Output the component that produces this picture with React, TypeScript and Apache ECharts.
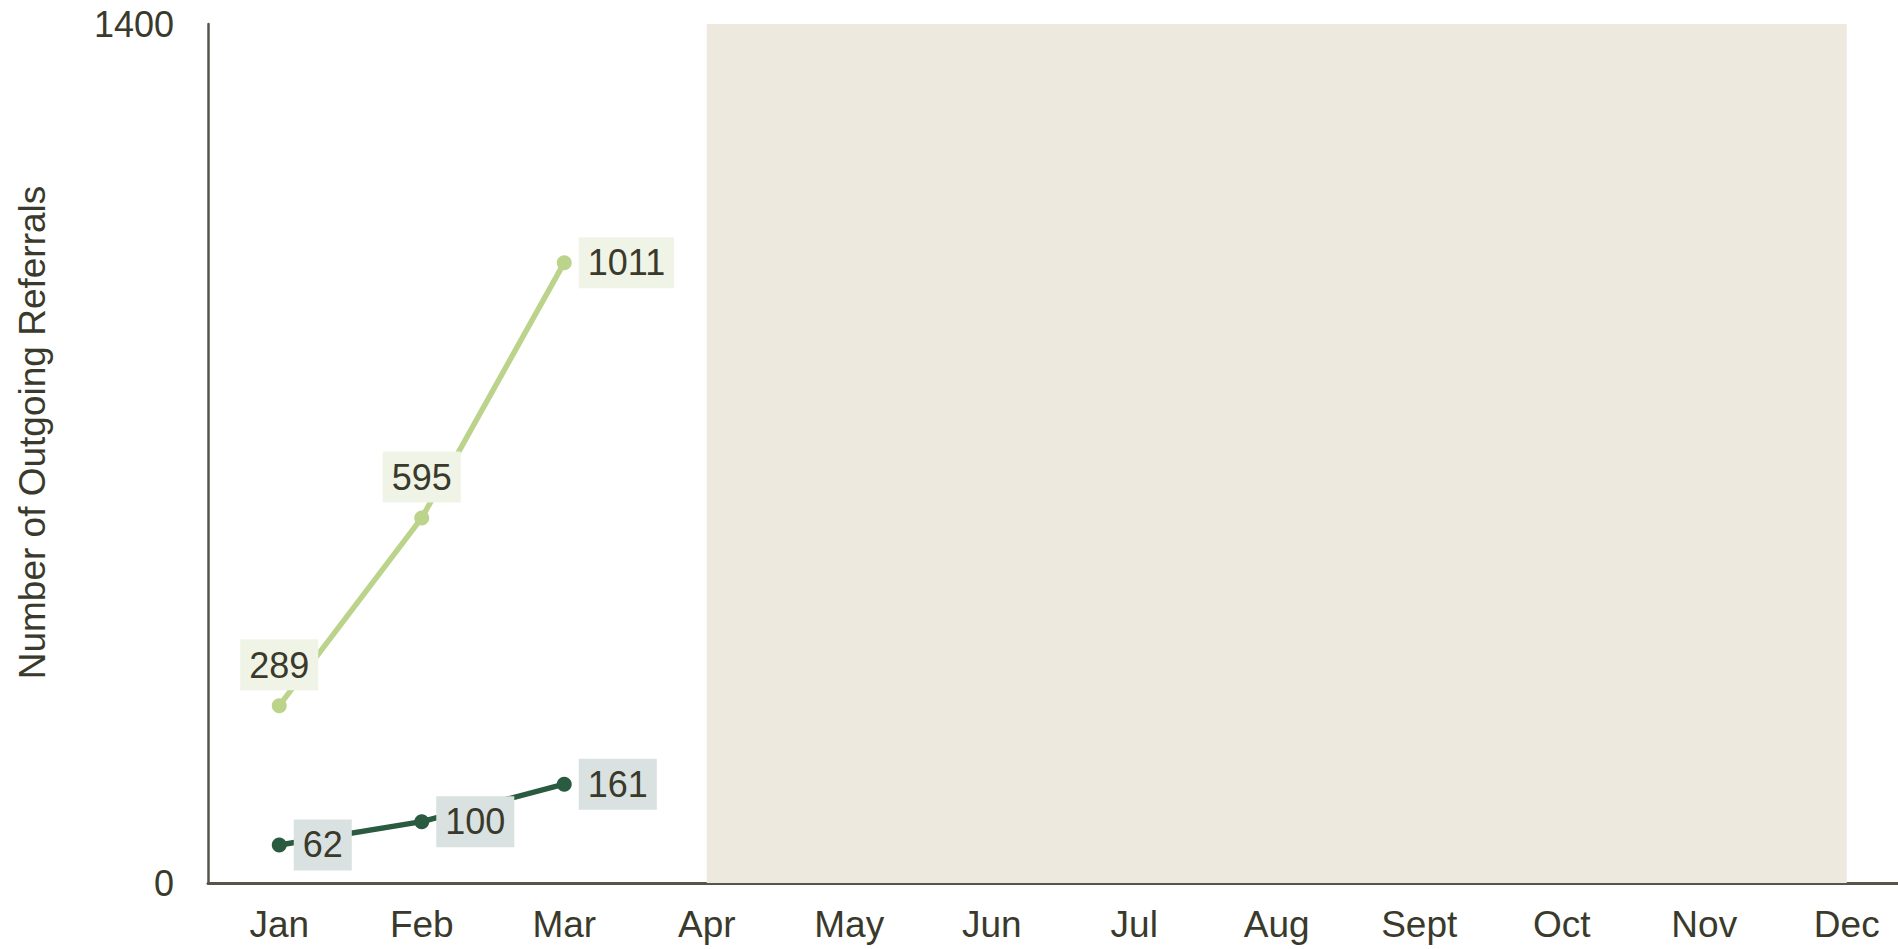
import React, { useEffect, useRef } from "react";
import * as echarts from "echarts";

const months = ["Jan", "Feb", "Mar", "Apr", "May", "Jun", "Jul", "Aug", "Sept", "Oct", "Nov", "Dec"];
const totalReferrals = [289, 595, 1011];
const otherReferrals = [62, 100, 161];
const yTicks = [0, 1400];
const shadedFrom = "Apr";
const shadedTo = "Dec";

const FONT = "'Liberation Sans', Arial, sans-serif";
const TEXT = "#3a3a2c";
const AXIS = "#57544a";
const LIGHT = "#bcd38b";
const DARK = "#2a5a3f";

export default function App() {
  const ref = useRef<HTMLDivElement>(null);
  useEffect(() => {
    document.body.style.margin = "0";
    document.body.style.overflow = "hidden";
    const chart = echarts.init(ref.current!, null, { renderer: "svg" });
    const lastLight = totalReferrals.length - 1;
    const lightData = totalReferrals.map((v, i) => ({
      value: v,
      label: { position: i === lastLight ? "right" : "top", distance: i === lastLight ? 7 : 8 },
    }));
    const darkData = otherReferrals.map((v) => ({ value: v, label: { position: "right", distance: 7 } }));
    const labelBase = {
      show: true,
      fontSize: 36,
      fontFamily: FONT,
      color: TEXT,
      lineHeight: 38,
      padding: [7, 9, 6, 9],
    };
    chart.setOption({
      animation: false,
      grid: { left: 208, right: 0, top: 24, bottom: 66 },
      xAxis: {
        type: "category",
        data: months,
        axisLine: { show: true, lineStyle: { color: AXIS, width: 3 } },
        axisTick: { show: false },
        axisLabel: { interval: 0, fontSize: 37, fontFamily: FONT, color: TEXT, margin: 23 },
        splitLine: { show: false },
      },
      yAxis: {
        type: "value",
        min: yTicks[0],
        max: yTicks[yTicks.length - 1],
        interval: yTicks[yTicks.length - 1] - yTicks[0],
        name: "Number of Outgoing Referrals",
        nameLocation: "middle",
        nameGap: 157,
        nameTextStyle: { fontSize: 37, fontFamily: FONT, color: TEXT, padding: [0, 0, 0, 42] },
        axisLine: { show: true, lineStyle: { color: AXIS, width: 2.5 } },
        axisTick: { show: false },
        axisLabel: {
          fontSize: 36,
          fontFamily: FONT,
          color: TEXT,
          margin: 34,
          formatter: (v: number) => String(v),
        },
        splitLine: { show: false },
      },
      series: [
        {
          name: "Total",
          type: "line",
          data: lightData,
          symbol: "circle",
          symbolSize: 15,
          lineStyle: { color: LIGHT, width: 5.5 },
          itemStyle: { color: LIGHT },
          label: { ...labelBase, backgroundColor: "#f0f4e6" },
          markArea: {
            silent: true,
            itemStyle: { color: "#ede9df" },
            data: [[{ xAxis: shadedFrom }, { xAxis: shadedTo }]],
          },
          z: 3,
        },
        {
          name: "Subset",
          type: "line",
          data: darkData,
          symbol: "circle",
          symbolSize: 15,
          lineStyle: { color: DARK, width: 5.5 },
          itemStyle: { color: DARK },
          label: { ...labelBase, backgroundColor: "#d9e2e0" },
          z: 4,
        },
      ],
    });
    return () => chart.dispose();
  }, []);
  return (
    <div style={{ position: "absolute", left: 0, top: 0, width: 1898, height: 949, overflow: "hidden" }}>
      <div ref={ref} style={{ width: 1918, height: 949 }} />
    </div>
  );
}
